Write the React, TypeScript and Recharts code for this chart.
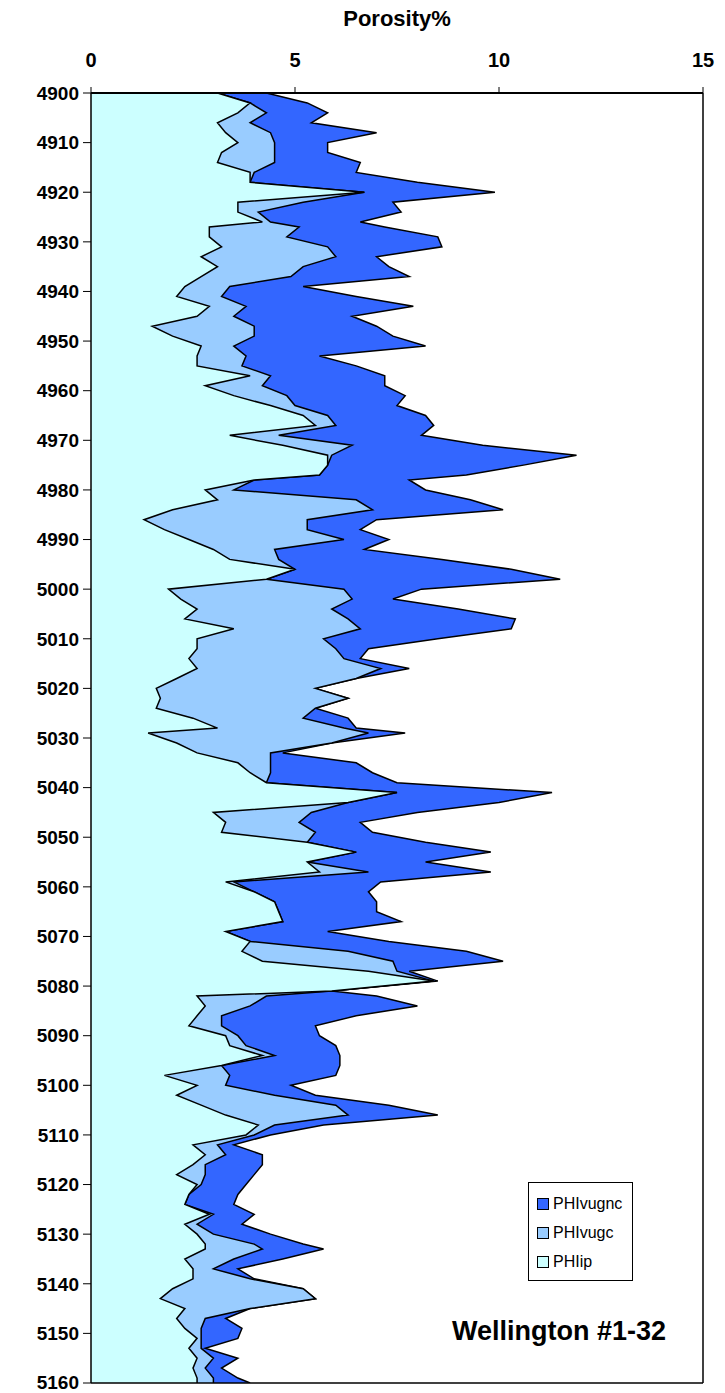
import React from "react";
import { Area, ComposedChart, Legend, ReferenceLine, XAxis, YAxis } from "recharts";

// depth (ft) of each reading
const depths = [
  4900, 4902, 4904, 4906, 4908, 4910, 4912, 4914, 4916, 4918,
  4920, 4922, 4924, 4926, 4927, 4929, 4931, 4933, 4935, 4937,
  4939, 4941, 4943, 4945, 4947, 4949, 4951, 4953, 4955, 4957,
  4959, 4961, 4963, 4965, 4967, 4969, 4971, 4973, 4975, 4977,
  4978, 4980, 4982, 4984, 4986, 4988, 4990, 4992, 4994, 4996,
  4998, 5000, 5002, 5004, 5006, 5008, 5010, 5012, 5014, 5016,
  5018, 5020, 5022, 5024, 5026, 5028, 5029, 5031, 5033, 5035,
  5037, 5039, 5041, 5043, 5045, 5047, 5049, 5051, 5053, 5055,
  5057, 5059, 5061, 5063, 5065, 5067, 5069, 5071, 5073, 5075,
  5077, 5079, 5081, 5082, 5084, 5086, 5088, 5090, 5092, 5094,
  5096, 5098, 5100, 5102, 5104, 5106, 5108, 5110, 5112, 5114,
  5116, 5118, 5120, 5122, 5124, 5126, 5128, 5130, 5132, 5133,
  5135, 5137, 5139, 5141, 5143, 5145, 5147, 5149, 5151, 5153,
  5155, 5157, 5159, 5160,
];

const phiIp = [
  3.1, 3.9, 3.6, 3.1, 3.3, 3.6, 3.2, 3.1, 3.9, 3.9,
  6.7, 3.6, 3.6, 4.2, 2.9, 2.9, 3.2, 2.7, 3.1, 2.7,
  2.3, 2.1, 2.9, 2.6, 1.5, 2.0, 2.7, 2.6, 2.6, 3.9,
  2.8, 3.5, 4.4, 5.2, 5.5, 3.4, 4.7, 5.8, 5.8, 5.6,
  4.0, 2.8, 3.1, 2.0, 1.3, 1.8, 2.4, 3.0, 3.4, 5.0,
  4.3, 1.9, 2.2, 2.6, 2.3, 3.5, 2.6, 2.6, 2.4, 2.6,
  2.1, 1.6, 1.7, 1.6, 2.5, 3.1, 1.4, 2.1, 2.6, 3.6,
  3.9, 4.3, 7.5, 6.3, 3.0, 3.3, 3.2, 5.3, 6.5, 5.3,
  5.6, 3.3, 4.0, 4.5, 4.6, 4.7, 3.3, 3.9, 3.7, 4.2,
  6.8, 8.4, 5.9, 2.6, 2.8, 2.6, 2.4, 3.3, 3.4, 4.2,
  3.2, 1.8, 2.6, 2.1, 2.7, 3.3, 4.1, 3.8, 2.5, 2.8,
  2.5, 2.1, 2.6, 2.4, 2.3, 2.9, 2.3, 2.6, 2.8, 2.8,
  2.3, 2.5, 2.5, 2.0, 1.7, 2.3, 2.1, 2.3, 2.6, 2.4,
  2.6, 2.5, 2.6, 2.6,
];

const phiVugc = [
  3.1, 3.9, 4.3, 3.9, 4.4, 4.5, 4.5, 4.5, 4.0, 3.9,
  6.7, 5.2, 4.1, 4.4, 5.1, 4.8, 5.8, 6.0, 5.2, 4.9,
  3.4, 3.2, 3.8, 3.5, 4.0, 4.0, 3.5, 3.8, 3.7, 4.4,
  4.2, 4.8, 5.0, 5.8, 6.0, 4.6, 6.4, 5.9, 5.8, 5.6,
  4.0, 3.5, 6.5, 6.9, 5.3, 5.3, 6.2, 4.5, 4.6, 5.0,
  4.3, 6.2, 6.4, 5.9, 6.3, 6.6, 5.7, 6.0, 6.2, 7.1,
  6.5, 5.5, 6.3, 5.5, 5.2, 6.2, 6.8, 5.9, 4.4, 4.4,
  4.4, 4.3, 7.5, 6.3, 5.4, 5.1, 5.5, 5.3, 6.5, 5.3,
  6.8, 3.5, 4.0, 4.5, 4.6, 4.7, 3.3, 3.9, 6.3, 7.4,
  7.5, 8.4, 5.9, 4.3, 3.9, 3.2, 3.2, 3.6, 3.8, 4.5,
  3.2, 3.4, 3.3, 4.5, 6.0, 6.3, 4.5, 4.0, 3.1, 3.3,
  2.8, 2.8, 2.7, 2.4, 2.3, 3.0, 2.6, 3.0, 4.0, 4.2,
  3.5, 3.0, 3.9, 5.2, 5.5, 3.9, 2.8, 2.7, 2.7, 2.7,
  3.0, 2.8, 3.0, 3.0,
];

const phiVugnc = [
  4.3, 5.3, 5.8, 5.4, 7.0, 5.8, 5.8, 6.6, 6.5, 8.0,
  9.9, 7.4, 7.6, 6.6, 7.2, 8.5, 8.6, 7.0, 7.3, 7.8,
  5.2, 6.5, 7.9, 6.4, 7.0, 7.4, 8.2, 5.6, 6.5, 7.2,
  7.2, 7.7, 7.5, 8.2, 8.4, 8.1, 9.6, 11.9, 10.6, 9.2,
  7.8, 8.2, 9.3, 10.1, 7.0, 6.6, 7.3, 6.7, 8.6, 10.3,
  11.5, 8.1, 7.4, 9.0, 10.4, 10.3, 8.5, 6.8, 6.6, 7.8,
  6.5, 5.5, 6.3, 5.5, 6.3, 6.5, 7.7, 5.9, 4.7, 6.5,
  6.9, 7.5, 11.3, 10.0, 8.0, 6.6, 6.9, 8.2, 9.8, 8.2,
  9.8, 7.1, 6.8, 7.0, 7.0, 7.6, 5.8, 7.3, 9.2, 10.1,
  7.8, 8.5, 5.9, 7.0, 8.0, 6.5, 5.5, 5.6, 6.0, 6.1,
  6.1, 6.0, 4.9, 5.5, 7.3, 8.5, 5.7, 4.4, 3.5, 4.2,
  4.2, 4.0, 3.8, 3.6, 3.5, 4.0, 3.7, 4.4, 5.2, 5.7,
  4.7, 3.6, 4.0, 5.2, 5.5, 3.9, 3.3, 3.7, 3.6, 2.8,
  3.6, 3.2, 3.6, 3.9,
];

const depthTicks = [
  4900, 4910, 4920, 4930, 4940, 4950, 4960, 4970, 4980, 4990, 5000, 5010, 5020, 5030,
  5040, 5050, 5060, 5070, 5080, 5090, 5100, 5110, 5120, 5130, 5140, 5150, 5160,
];
const porosityTicks = [0, 5, 10, 15];

const COLORS = {
  PHIvugnc: "#3366FF",
  PHIvugc: "#99CCFF",
  PHIip: "#CCFFFF",
};

const FONT = 'Arial, "Liberation Sans", sans-serif';

const data = depths.map((depth, i) => ({
  depth,
  PHIvugnc: phiVugnc[i],
  PHIvugc: phiVugc[i],
  PHIip: phiIp[i],
}));

function LegendBox() {
  const items = ["PHIvugnc", "PHIvugc", "PHIip"] as const;
  return (
    <div
      style={{
        border: "1px solid #000",
        background: "#fff",
        padding: "6px 10px 4px 8px",
        fontFamily: FONT,
        fontSize: 16,
        color: "#000",
      }}
    >
      {items.map((name) => (
        <div key={name} style={{ display: "flex", alignItems: "center", height: 29 }}>
          <span
            style={{
              display: "inline-block",
              width: 10,
              height: 10,
              border: "1px solid #000",
              background: COLORS[name],
              marginRight: 4,
            }}
          />
          {name}
        </div>
      ))}
    </div>
  );
}

export default function App() {
  return (
    <div
      style={{
        position: "absolute",
        left: 0,
        top: 0,
        width: 725,
        height: 1393,
        background: "#fff",
        fontFamily: FONT,
      }}
    >
      <div
        style={{
          position: "absolute",
          left: 91,
          width: 612,
          top: 6,
          textAlign: "center",
          fontWeight: "bold",
          fontSize: 22,
        }}
      >
        Porosity%
      </div>
      <ComposedChart
        layout="vertical"
        width={725}
        height={1393}
        data={data}
        margin={{ top: 53, right: 22, bottom: 10, left: 0 }}
      >
        <XAxis
          type="number"
          orientation="top"
          domain={[0, 15]}
          ticks={porosityTicks}
          allowDataOverflow
          height={40}
          axisLine={{ stroke: "#000", strokeWidth: 2 }}
          tickLine={{ stroke: "#000" }}
          tickSize={6}
          tickMargin={20}
          tick={{ fill: "#000", fontSize: 20, fontWeight: "bold", fontFamily: FONT }}
        />
        <YAxis
          type="number"
          dataKey="depth"
          domain={[4900, 5160]}
          ticks={depthTicks}
          allowDataOverflow
          width={91}
          axisLine={{ stroke: "#000", strokeWidth: 1.5 }}
          tickLine={{ stroke: "#000" }}
          tickSize={8}
          tickMargin={4}
          tick={{ fill: "#000", fontSize: 19, fontWeight: "bold", fontFamily: FONT }}
        />
        <Area
          dataKey="PHIvugnc"
          name="PHIvugnc"
          type="linear"
          fill={COLORS.PHIvugnc}
          fillOpacity={1}
          stroke="#000"
          strokeWidth={1.5}
          isAnimationActive={false}
        />
        <Area
          dataKey="PHIvugc"
          name="PHIvugc"
          type="linear"
          fill={COLORS.PHIvugc}
          fillOpacity={1}
          stroke="#000"
          strokeWidth={1.5}
          isAnimationActive={false}
        />
        <Area
          dataKey="PHIip"
          name="PHIip"
          type="linear"
          fill={COLORS.PHIip}
          fillOpacity={1}
          stroke="#000"
          strokeWidth={1.5}
          isAnimationActive={false}
        />
        <ReferenceLine x={15} stroke="#000" strokeWidth={1.5} />
        <ReferenceLine y={5160} stroke="#000" strokeWidth={1.5} />
        <Legend
          layout="vertical"
          align="center"
          verticalAlign="middle"
          content={() => <LegendBox />}
          wrapperStyle={{ left: 528, top: 1182, width: "auto" }}
        />
      </ComposedChart>
      <div
        style={{
          position: "absolute",
          left: 452,
          top: 1316,
          fontWeight: "bold",
          fontSize: 27,
          color: "#000",
        }}
      >
        Wellington #1-32
      </div>
    </div>
  );
}
